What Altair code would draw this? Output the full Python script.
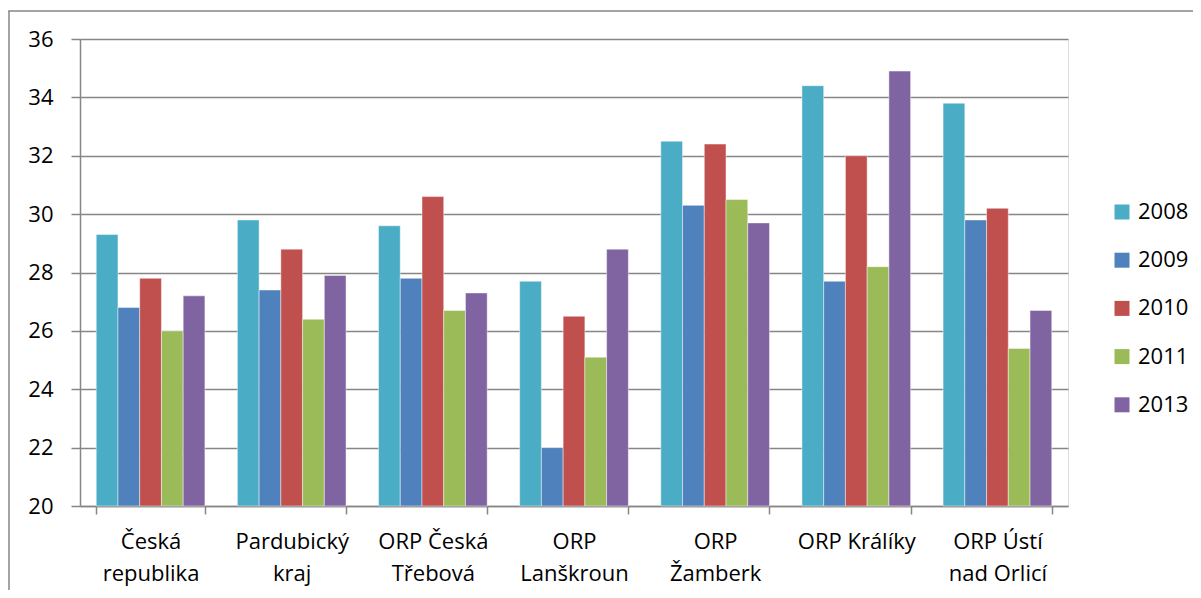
import altair as alt
import pandas as pd

categories = ["Česká|republika", "Pardubický|kraj", "ORP Česká|Třebová", "ORP|Lanškroun",
              "ORP|Žamberk", "ORP Králíky", "ORP Ústí|nad Orlicí"]
years = ["2008", "2009", "2010", "2011", "2013"]
v2008 = [29.3, 29.8, 29.6, 27.7, 32.5, 34.4, 33.8]
v2009 = [26.8, 27.4, 27.8, 22.0, 30.3, 27.7, 29.8]
v2010 = [27.8, 28.8, 30.6, 26.5, 32.4, 32.0, 30.2]
v2011 = [26.0, 26.4, 26.7, 25.1, 30.5, 28.2, 25.4]
v2013 = [27.2, 27.9, 27.3, 28.8, 29.7, 34.9, 26.7]
colors = ["#4BACC6", "#4F81BD", "#C0504D", "#9BBB59", "#8064A2"]
y_ticks = [20, 22, 24, 26, 28, 30, 32, 34, 36]

series = [v2008, v2009, v2010, v2011, v2013]
rows = []
for yr, vals in zip(years, series):
    for c, v in zip(categories, vals):
        rows.append({"kategorie": c, "rok": yr, "hodnota": v})
df = pd.DataFrame(rows)

FONT = "Open Sans"
FS = 22
GREY = "#868686"
W, H = 988, 467

bars = alt.Chart(df).mark_bar(stroke="white", strokeWidth=1, strokeOpacity=0.45).encode(
    x=alt.X("kategorie:N", sort=categories,
            scale=alt.Scale(paddingInner=0.23, paddingOuter=0.115),
            axis=alt.Axis(title=None, labelAngle=0, labelFont=FONT, labelFontSize=FS,
                          labelColor="black", labelExpr="split(datum.label, '|')",
                          labelLineHeight=32, labelPadding=17, labelBaseline="top",
                          tickSize=8, tickColor=GREY, tickWidth=1.5, tickBand="extent",
                          domainColor=GREY, domainWidth=1.5, grid=False)),
    xOffset=alt.XOffset("rok:N", sort=years, scale=alt.Scale(paddingInner=0, paddingOuter=0)),
    y=alt.Y("hodnota:Q", scale=alt.Scale(domain=[20, 36], zero=False, nice=False),
            axis=alt.Axis(title=None, values=y_ticks, labelFont=FONT, labelFontSize=FS,
                          labelColor="black", labelPadding=18, tickSize=9, tickColor=GREY,
                          tickWidth=1.5, domainColor=GREY, domainWidth=1.5,
                          grid=True, gridColor=GREY, gridWidth=1.5)),
    y2=alt.datum(20),
    color=alt.Color("rok:N", sort=years, scale=alt.Scale(domain=years, range=colors),
                    legend=alt.Legend(title=None, orient="none", legendX=1031, legendY=162,
                                      symbolType="square", symbolSize=225, symbolStrokeWidth=0,
                                      labelFont=FONT, labelFontSize=FS, labelColor="black",
                                      labelOffset=5, rowPadding=26.2)),
)

frame_df = pd.DataFrame({"k": [0]})
frame_left = alt.Chart(frame_df).mark_rule(color=GREY, strokeWidth=1.5).encode(
    x=alt.value(-71), y=alt.value(-28), y2=alt.value(H + 100))
frame_top = alt.Chart(frame_df).mark_rect(color=GREY).encode(
    x=alt.value(-71.75), x2=alt.value(W + 200), y=alt.value(-28.75), y2=alt.value(-27.25))

chart = alt.layer(frame_left, frame_top, bars).properties(
    width=W, height=H,
    autosize=alt.AutoSizeParams(type="none"),
    padding={"left": 72, "top": 31, "right": 125, "bottom": 84},
).configure_view(stroke=None).configure(background="white")

chart.save("out.html", embed_options={"renderer": "svg", "actions": False})
